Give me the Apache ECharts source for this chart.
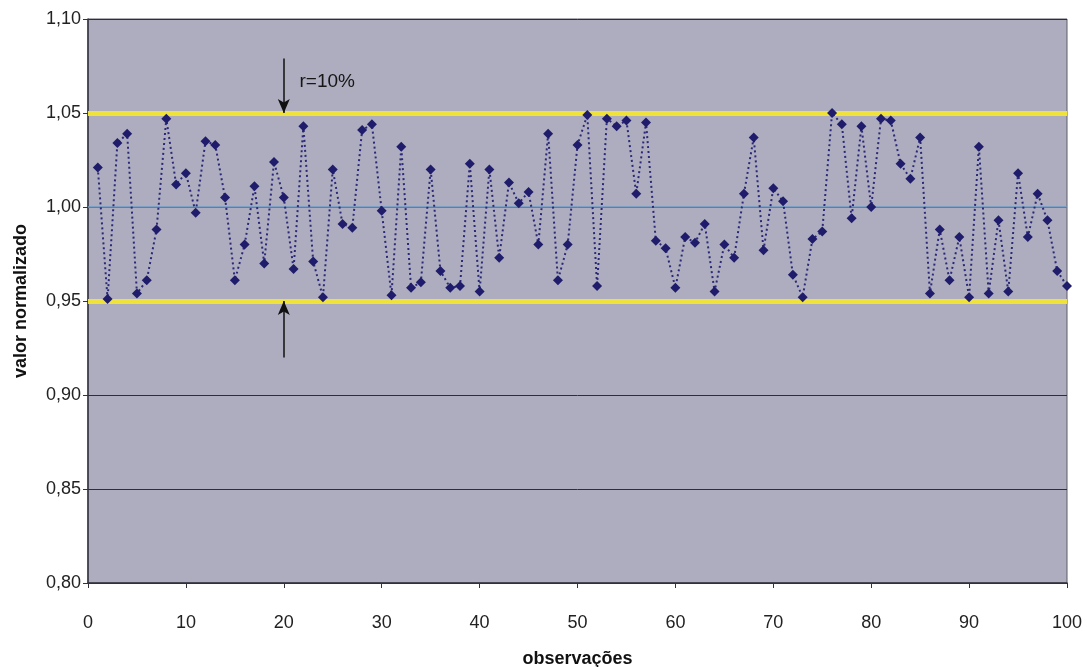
<!DOCTYPE html>
<html>
<head>
<meta charset="utf-8">
<title>valor normalizado</title>
<script src="https://cdn.jsdelivr.net/npm/echarts@6/dist/echarts.min.js"></script>
<style>
  html, body { margin: 0; padding: 0; background: #ffffff; }
  #chart { width: 1087px; height: 667px; }
</style>
</head>
<body>
<div id="chart"></div>
<script>
// observation numbers 1..100
const observacoes = [
  1, 2, 3, 4, 5, 6, 7, 8, 9, 10,
  11, 12, 13, 14, 15, 16, 17, 18, 19, 20,
  21, 22, 23, 24, 25, 26, 27, 28, 29, 30,
  31, 32, 33, 34, 35, 36, 37, 38, 39, 40,
  41, 42, 43, 44, 45, 46, 47, 48, 49, 50,
  51, 52, 53, 54, 55, 56, 57, 58, 59, 60,
  61, 62, 63, 64, 65, 66, 67, 68, 69, 70,
  71, 72, 73, 74, 75, 76, 77, 78, 79, 80,
  81, 82, 83, 84, 85, 86, 87, 88, 89, 90,
  91, 92, 93, 94, 95, 96, 97, 98, 99, 100
];

// normalized value for each observation
const valores = [
  1.021, 0.951, 1.034, 1.039, 0.954, 0.961, 0.988, 1.047, 1.012, 1.018,
  0.997, 1.035, 1.033, 1.005, 0.961, 0.980, 1.011, 0.970, 1.024, 1.005,
  0.967, 1.043, 0.971, 0.952, 1.020, 0.991, 0.989, 1.041, 1.044, 0.998,
  0.953, 1.032, 0.957, 0.960, 1.020, 0.966, 0.957, 0.958, 1.023, 0.955,
  1.020, 0.973, 1.013, 1.002, 1.008, 0.980, 1.039, 0.961, 0.980, 1.033,
  1.049, 0.958, 1.047, 1.043, 1.046, 1.007, 1.045, 0.982, 0.978, 0.957,
  0.984, 0.981, 0.991, 0.955, 0.980, 0.973, 1.007, 1.037, 0.977, 1.010,
  1.003, 0.964, 0.952, 0.983, 0.987, 1.050, 1.044, 0.994, 1.043, 1.000,
  1.047, 1.046, 1.023, 1.015, 1.037, 0.954, 0.988, 0.961, 0.984, 0.952,
  1.032, 0.954, 0.993, 0.955, 1.018, 0.984, 1.007, 0.993, 0.966, 0.958
];

// tolerance band (r = 10%) and centre value
const limites = [0.95, 1.05];
const centro = 1.00;

// arrows marking the band width at observation 20
const setaX = 20;
const setaSuperior = [1.079, 1.05];
const setaInferior = [0.920, 0.95];
const rotulo = 'r=10%';
const rotuloPos = [21.6, 1.0665];

const eixoY = { min: 0.80, max: 1.10, interval: 0.05 };
const eixoX = { min: 0, max: 100, interval: 10 };

const chart = echarts.init(document.getElementById('chart'), null, { renderer: 'canvas' });

const textColor = '#222222';
const fontFamily = 'Liberation Sans, Arial, sans-serif';

const option = {
  animation: false,
  backgroundColor: '#ffffff',
  grid: {
    left: 88, right: 20, top: 19, bottom: 84,
    outerBoundsMode: 'none',
    containLabel: false,
    show: true,
    backgroundColor: '#aeadbf',
    borderColor: '#5a5a66',
    borderWidth: 1
  },
  xAxis: {
    type: 'value',
    min: eixoX.min, max: eixoX.max, interval: eixoX.interval,
    name: 'observações',
    nameLocation: 'middle',
    nameGap: 67,
    nameTextStyle: { fontFamily, fontSize: 18, fontWeight: 'bold', color: '#111' },
    axisLine: { show: true, lineStyle: { color: '#333340', width: 1.5 } },
    axisTick: { show: true, length: 5, lineStyle: { color: '#333340' } },
    axisLabel: { fontFamily, fontSize: 18, color: textColor, margin: 31 },
    splitLine: { show: false }
  },
  yAxis: {
    type: 'value',
    min: eixoY.min, max: eixoY.max, interval: eixoY.interval,
    name: 'valor normalizado',
    nameLocation: 'middle',
    nameGap: 58,
    nameTextStyle: { fontFamily, fontSize: 18, fontWeight: 'bold', color: '#111' },
    axisLine: { show: true, lineStyle: { color: '#333340', width: 1.5 } },
    axisTick: { show: true, length: 5, lineStyle: { color: '#333340' } },
    axisLabel: {
      fontFamily, fontSize: 18, color: textColor, margin: 7,
      formatter: v => v.toFixed(2).replace('.', ',')
    },
    splitLine: { show: true, lineStyle: { color: '#2e2e3a', width: 1 } }
  },
  series: [
    {
      name: 'valor normalizado',
      type: 'line',
      data: observacoes.map((o, i) => [o, valores[i]]),
      symbol: 'diamond',
      symbolSize: 10,
      itemStyle: { color: '#1f1c6b' },
      lineStyle: { color: '#2a2878', width: 2, type: [2, 3] },
      z: 5,
      markLine: {
        silent: true,
        symbol: 'none',
        label: { show: false },
        data: [
          { yAxis: limites[0], lineStyle: { color: '#efe23a', width: 5, type: 'solid' } },
          { yAxis: limites[1], lineStyle: { color: '#efe23a', width: 5, type: 'solid' } },
          { yAxis: centro, lineStyle: { color: '#6e9cc6', width: 1.5, type: 'solid' } },
          [
            { coord: [setaX, setaSuperior[0]], symbol: 'none' },
            { coord: [setaX, setaSuperior[1]], symbol: 'arrow', symbolSize: [9, 14],
              lineStyle: { color: '#111111', width: 1.5, type: 'solid' } }
          ],
          [
            { coord: [setaX, setaInferior[0]], symbol: 'none' },
            { coord: [setaX, setaInferior[1]], symbol: 'arrow', symbolSize: [9, 14],
              lineStyle: { color: '#111111', width: 1.5, type: 'solid' } }
          ]
        ]
      }
    }
  ]
};

chart.setOption(option);

// band label placed in data coordinates
const p = chart.convertToPixel({ gridIndex: 0 }, rotuloPos);
chart.setOption({
  graphic: [{
    type: 'text',
    x: p[0], y: p[1],
    z: 10,
    style: {
      text: rotulo,
      fontFamily, fontSize: 19, fill: '#161616',
      textAlign: 'left', textVerticalAlign: 'middle'
    }
  }]
});
</script>
</body>
</html>
